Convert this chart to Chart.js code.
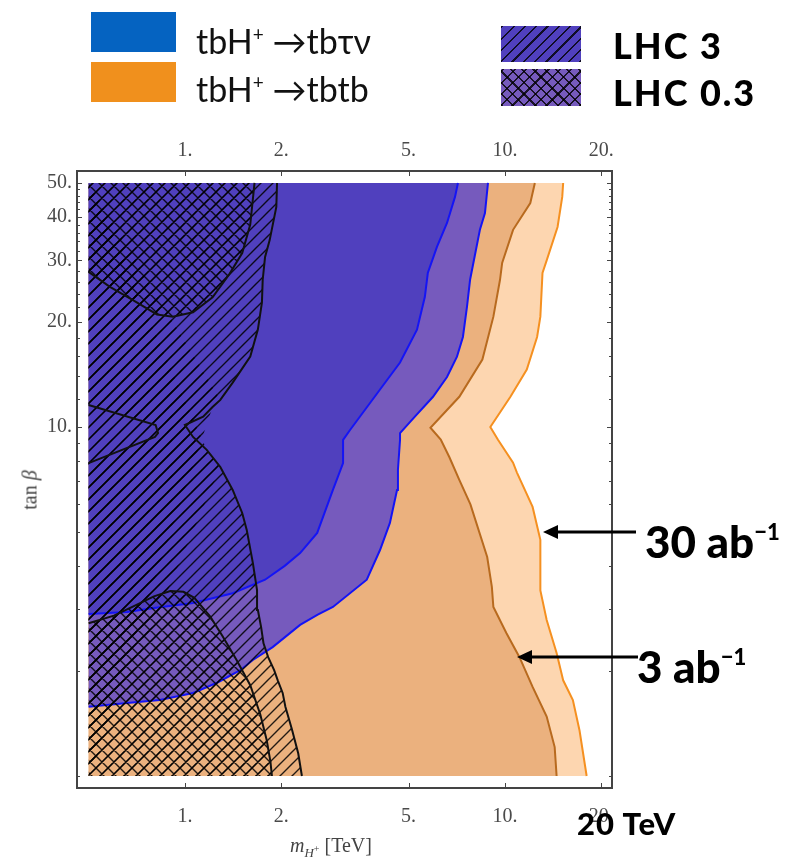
<!DOCTYPE html>
<html>
<head>
<meta charset="utf-8">
<script src="https://cdn.jsdelivr.net/npm/chart.js@4.4.1/dist/chart.umd.min.js"></script>
<style>
    html, body { margin: 0; padding: 0; background: #fff; }
    #wrap { position: relative; width: 786px; height: 859px; overflow: hidden; }
    #plot { position: absolute; left: 0; top: 0; }
    .abs { position: absolute; white-space: nowrap; }
    .key { font-family: Lato, sans-serif; font-size: 34px; color: #111; }
    .key sup { font-size: 19px; vertical-align: 13px; }
    .bold { font-family: Lato, sans-serif; font-weight: 900; color: #000; }
    .bold sup { font-size: 22px; vertical-align: 18px; }
    .serif { font-family: "Liberation Serif", serif; font-size: 20px; color: #444; }
</style>
</head>
<body>
<div id="wrap">
    <canvas id="plot" width="786" height="859"></canvas>

    <div class="abs" style="left:91px;top:12px;width:85px;height:40px;background:#0563c1"></div>
    <div class="abs" style="left:91px;top:62px;width:85px;height:40px;background:#f0901d"></div>
    <div class="abs key" style="left:196px;top:14px;line-height:40px">tbH<sup>+</sup> &#8594;tb&#964;&#957;</div>
    <div class="abs key" style="left:196px;top:62px;line-height:40px">tbH<sup>+</sup> &#8594;tbtb</div>

    <div class="abs" style="left:501px;top:26px;width:80px;height:36px;
        background: repeating-linear-gradient(-45deg, rgba(0,0,0,.8) 0 1.5px, transparent 1.5px 8px), #5040be"></div>
    <div class="abs" style="left:501px;top:69px;width:80px;height:37px;
        background: repeating-linear-gradient(-45deg, rgba(0,0,0,.8) 0 1.5px, transparent 1.5px 8px),
                    repeating-linear-gradient(45deg, rgba(0,0,0,.8) 0 1.5px, transparent 1.5px 8px), #765abd"></div>
    <div class="abs bold" style="left:613px;top:26px;font-size:36px;line-height:38px;letter-spacing:2px">LHC 3</div>
    <div class="abs bold" style="left:613px;top:73px;font-size:36px;line-height:38px;letter-spacing:2px">LHC 0.3</div>

    <div class="abs serif" style="left:30px;top:490px;transform:translate(-50%,-50%) rotate(-90deg)">tan <i>&#946;</i></div>
    <div class="abs serif" style="left:290px;top:834px"><i>m</i><sub style="font-size:13px"><i>H</i><sup style="font-size:10px">+</sup></sub> [TeV]</div>

    <svg class="abs" style="left:0;top:0" width="786" height="859">
        <g stroke="#000" stroke-width="3" fill="#000">
            <line x1="636" y1="532" x2="556" y2="532"/>
            <polygon points="543,532 558,525 558,539" stroke="none"/>
            <line x1="638" y1="657" x2="530" y2="657"/>
            <polygon points="517,657 532,650 532,664" stroke="none"/>
        </g>
    </svg>
    <div class="abs bold" style="left:645px;top:510px;font-size:44px;line-height:44px">30 ab<sup>&#8722;1</sup></div>
    <div class="abs bold" style="left:637px;top:635px;font-size:44px;line-height:44px">3 ab<sup>&#8722;1</sup></div>
    <div class="abs bold" style="left:577px;top:808px;font-size:31px;line-height:31px;letter-spacing:1px">20 TeV</div>
</div>

<script>
// Contours: tan(beta) values and charged Higgs mass (TeV)
const tbtb30Tan  = [1, 1.35, 1.65, 1.88, 2.25, 2.8, 3.4, 4.75, 5.9, 7.4, 7.9, 9.2, 10, 12.2, 14.6, 18.1, 20.7, 27.6, 30, 37.4, 45.6, 50];
const tbtb30Mass = [18.0, 17.1, 16.3, 15.2, 14.5, 13.5, 12.9, 12.9, 12.2, 10.9, 10.6, 9.5, 9.0, 10.4, 11.7, 12.6, 12.9, 13.1, 13.5, 14.6, 15.1, 15.2];

const tbtb3Tan  = [1, 1.21, 1.48, 1.8, 2.19, 2.57, 3.05, 3.48, 4.24, 6.0, 7.05, 8.2, 9.2, 9.95, 12.2, 15.6, 20.7, 26.4, 29.5, 36.7, 43.8, 50];
const tbtb3Mass = [14.5, 14.3, 13.5, 12.2, 11.1, 10.1, 9.2, 9.1, 8.8, 7.8, 7.2, 6.7, 6.3, 5.85, 7.2, 8.5, 9.2, 9.65, 9.8, 10.6, 12.0, 12.4];

const tbtv30Tan  = [1.58, 1.62, 1.65, 1.73, 1.85, 2.01, 2.15, 2.34, 2.71, 2.9, 3.05, 3.65, 4.44, 5.31, 6.6, 7.53, 9.18, 9.6, 10.7, 12.2, 13.9, 15.9, 18.1, 22.1, 26.4, 36.7, 41, 50];
const tbtv30Mass = [0.5, 0.66, 0.835, 1.06, 1.26, 1.49, 1.63, 1.88, 2.29, 2.6, 2.9, 3.7, 4.07, 4.37, 4.6, 4.63, 4.7, 4.7, 5.23, 5.96, 6.59, 7.08, 7.39, 7.61, 7.78, 8.35, 8.66, 8.85];

const tbtv3Tan  = [2.91, 2.95, 3.03, 3.13, 3.34, 3.65, 4.0, 4.35, 4.97, 6.6, 7.88, 9.18, 9.8, 12.8, 15.3, 19.0, 23.6, 27.6, 32.8, 38.4, 45.6, 50];
const tbtv3Mass = [0.5, 0.66, 0.8, 1.06, 1.41, 1.78, 2.05, 2.29, 2.59, 2.9, 3.12, 3.12, 3.28, 4.07, 4.7, 5.31, 5.62, 5.74, 6.13, 6.59, 6.98, 7.13];

// LHC 3 ab^-1 excluded band: right edge and left edge (with the notch near tan(beta)=10)
const lhc3RightTan  = [1, 1.16, 1.36, 1.58, 1.73, 1.88, 2.01, 2.19, 2.4, 2.67, 2.99, 3.41, 4.08, 5.07, 5.67, 6.6, 7.68, 8.6, 9.36, 10.13, 10.7, 11.4, 11.95, 13.4, 15.9, 19.0, 22.7, 26.4, 30.7, 34.3, 42.7, 50];
const lhc3RightMass = [2.32, 2.26, 2.16, 2.06, 2.02, 1.95, 1.9, 1.82, 1.76, 1.73, 1.69, 1.68, 1.63, 1.56, 1.51, 1.41, 1.29, 1.17, 1.06, 1.0, 1.14, 1.22, 1.29, 1.41, 1.6, 1.69, 1.74, 1.75, 1.78, 1.84, 1.93, 1.94];
const lhc3LeftTan  = [1, 7.88, 9.36, 9.61, 10.13, 11.56, 50];
const lhc3LeftMass = [0.5, 0.5, 0.806, 0.824, 0.81, 0.5, 0.5];

// LHC 0.3 ab^-1 excluded patches (as tan(beta) against mass)
const lhc03TopMass = [0.5, 0.583, 0.688, 0.818, 0.917, 1.06, 1.22, 1.38, 1.51, 1.6, 1.65];
const lhc03TopTan  = [27.8, 25.2, 23.1, 21.0, 20.7, 21.3, 23.5, 27.5, 31.5, 38, 50];
const lhc03LowMass = [0.5, 0.6, 0.69, 0.8, 0.9, 0.99, 1.07, 1.2, 1.31, 1.45, 1.6, 1.72, 1.8, 1.85, 1.87];
const lhc03LowTan  = [2.74, 2.88, 3.06, 3.27, 3.39, 3.37, 3.24, 2.86, 2.52, 2.15, 1.82, 1.5, 1.27, 1.1, 1.0];

const massTicks   = [1, 2, 5, 10, 20];
const tanTicks    = [10, 20, 30, 40, 50];
const tanSubTicks = [1, 2, 3, 4, 5, 6, 7, 8, 9, 12, 14, 16, 18, 22, 24, 26, 28, 32, 34, 36, 38, 42, 44, 46, 48];

const MASS_MIN = 0.5, TAN_MIN = 1, TAN_MAX = 50;

const pts = (tan, mass) => tan.map((t, i) => ({ x: mass[i], y: t }));

const hatch = (cross) => {
    const s = 12;
    const c = document.createElement('canvas');
    c.width = c.height = s;
    const g = c.getContext('2d');
    g.strokeStyle = 'rgba(0,0,0,0.85)';
    g.lineWidth = 1.4;
    g.beginPath();
    g.moveTo(-2, s + 2); g.lineTo(s + 2, -2);
    g.moveTo(-2, 2); g.lineTo(2, -2);
    g.moveTo(s - 2, s + 2); g.lineTo(s + 2, s - 2);
    if (cross) {
        g.moveTo(-2, -2); g.lineTo(s + 2, s + 2);
        g.moveTo(s - 2, -2); g.lineTo(s + 2, 2);
        g.moveTo(-2, s - 2); g.lineTo(2, s + 2);
    }
    g.stroke();
    return g.createPattern(c, 'repeat');
};

// Mathematica style frame ticks pointing inwards
const insideTicks = {
    id: 'insideTicks',
    afterDraw(chart) {
        const { ctx, chartArea: a, scales } = chart;
        ctx.save();
        ctx.strokeStyle = '#444';
        ctx.lineWidth = 1;
        ctx.beginPath();
        for (const v of massTicks) {
            const px = Math.round(scales.x.getPixelForValue(v)) + 0.5;
            ctx.moveTo(px, a.bottom); ctx.lineTo(px, a.bottom - 5);
            ctx.moveTo(px, a.top); ctx.lineTo(px, a.top + 5);
        }
        const yTick = (v, len) => {
            const py = Math.round(scales.y.getPixelForValue(v)) + 0.5;
            ctx.moveTo(a.left, py); ctx.lineTo(a.left + len, py);
            ctx.moveTo(a.right, py); ctx.lineTo(a.right - len, py);
        };
        tanTicks.forEach(v => yTick(v, 5));
        tanSubTicks.forEach(v => yTick(v, 3));
        ctx.stroke();
        ctx.restore();
    }
};

const tickFont = { family: 'Liberation Serif', size: 20 };

const massAxis = (position, pad, size) => ({
    type: 'logarithmic',
    position,
    min: 0.46,
    max: 21.6,
    afterBuildTicks: s => { s.ticks = massTicks.map(v => ({ value: v })); },
    afterFit: s => { s.height = size; },
    ticks: { autoSkip: false, maxRotation: 0, padding: pad, font: tickFont, color: '#4a4a4a', callback: v => v + '.' },
    grid: { display: false, drawTicks: false },
    border: { display: true, color: '#444', width: 2 }
});

const tanAxis = (position, size, labels) => ({
    type: 'logarithmic',
    position,
    min: 0.924,
    max: 54.1,
    afterBuildTicks: s => { s.ticks = tanTicks.map(v => ({ value: v })); },
    afterFit: s => { s.width = size; },
    ticks: { display: labels, autoSkip: false, padding: 5, font: tickFont, color: '#4a4a4a', callback: v => v + '.' },
    grid: { display: false, drawTicks: false },
    border: { display: true, color: '#444', width: 2 }
});

const region = (data, color, line, order, extra) => Object.assign({
    data,
    indexAxis: 'y',
    xAxisID: 'x',
    yAxisID: 'y',
    backgroundColor: color,
    borderColor: line,
    borderWidth: 2,
    pointRadius: 0,
    tension: 0,
    fill: { value: MASS_MIN },
    order
}, extra);

new Chart(document.getElementById('plot'), {
    type: 'line',
    data: {
        datasets: [
            region(pts(tbtb30Tan, tbtb30Mass), '#fdd6b0', '#f59020', 10),
            region(pts(tbtb3Tan, tbtb3Mass), '#ebb17e', '#b86a1e', 9),
            region(pts(tbtv30Tan, tbtv30Mass), '#765abd', '#1414f5', 8),
            region(pts(tbtv3Tan, tbtv3Mass), '#5040be', '#1414f5', 7),
            region(pts(lhc3RightTan, lhc3RightMass), hatch(false), '#111', 6, { fill: '+1' }),
            region(pts(lhc3LeftTan, lhc3LeftMass), 'transparent', '#111', 5, {
                fill: false,
                segment: { borderColor: c => (c.p0.parsed.x === MASS_MIN && c.p1.parsed.x === MASS_MIN) ? 'rgba(0,0,0,0)' : '#111' }
            }),
            region(pts(lhc03TopTan, lhc03TopMass), hatch(true), '#111', 4, { indexAxis: 'x', fill: { value: TAN_MAX } }),
            region(pts(lhc03LowTan, lhc03LowMass), hatch(true), '#111', 3, { indexAxis: 'x', fill: { value: TAN_MIN } })
        ]
    },
    options: {
        responsive: false,
        animation: false,
        events: [],
        layout: { padding: 0 },
        plugins: { legend: { display: false }, tooltip: { enabled: false } },
        scales: {
            x:  massAxis('bottom', 17, 71),
            x2: massAxis('top', 8, 171),
            y:  tanAxis('left', 77, true),
            y2: tanAxis('right', 174, false)
        }
    },
    plugins: [insideTicks]
});
</script>
</body>
</html>
